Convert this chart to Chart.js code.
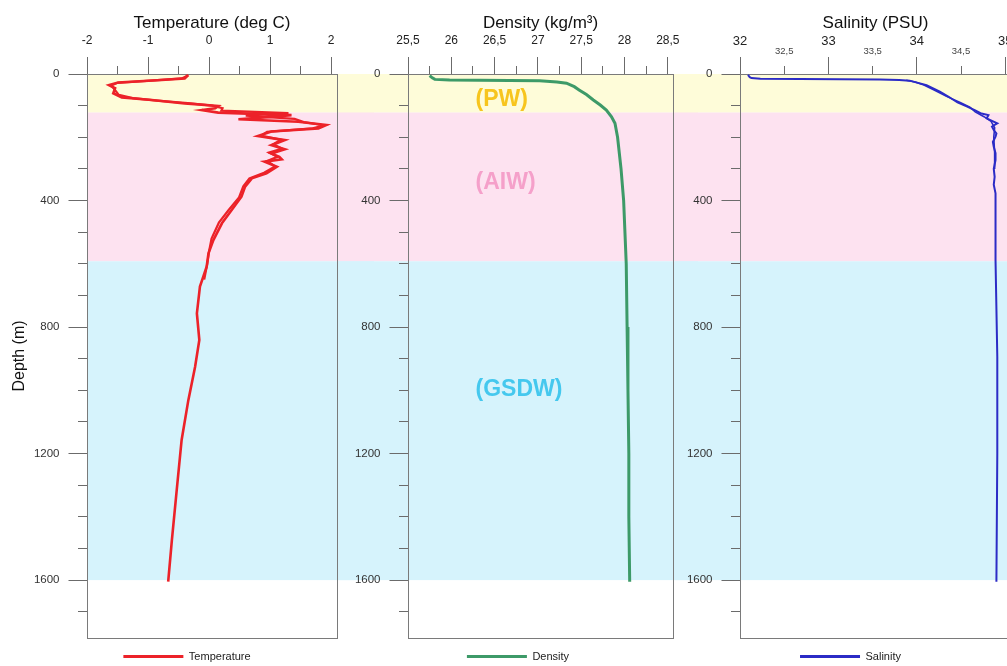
<!DOCTYPE html>
<html><head><meta charset="utf-8">
<script src="https://cdn.jsdelivr.net/npm/chart.js@4"></script>
<style>
html,body{margin:0;padding:0;background:#fff;overflow:hidden;width:1007px;height:666px;position:relative}
canvas{position:absolute;top:0}
</style></head><body>
<canvas id="cT" width="374" height="672" style="left:0px"></canvas>
<canvas id="cD" width="360" height="672" style="left:338px"></canvas>
<canvas id="cS" width="351" height="672" style="left:675px"></canvas>
<script>
// ---------- data ----------
const depthMax = 1783;
const bandNames = ['(PW)', '(AIW)', '(GSDW)'];
const bandTop = [0, 122, 592];
const bandBottom = [122, 592, 1600];
const bandColors = ['#fefcd9', '#fde2f0', '#d6f3fc'];
const labelColors = ['#f7c51e', '#f5a0ca', '#45c8ee'];
const labelDensity = [26.28, 26.28, 26.28];
const labelDepth = [82, 345, 999];

const tempDepth = [3, 14, 19, 27, 35, 45, 61, 74, 82, 93, 101, 108, 114, 122, 130, 137, 143, 151, 161, 172, 182, 196, 209, 225, 238, 251, 262, 270, 277, 293, 314, 330, 356, 388, 430, 472, 525, 567, 609, 672, 757, 841, 926, 1031, 1157, 1315, 1474, 1605];
const tempValue = [-0.34, -0.40, -0.78, -1.49, -1.64, -1.54, -1.57, -1.43, -0.94, -0.40, 0.15, 0.10, -0.12, 0.15, 1.35, 0.90, 0.48, 1.46, 1.92, 1.79, 1.02, 0.80, 1.24, 1.02, 1.24, 1.02, 1.15, 1.19, 0.91, 1.11, 0.94, 0.70, 0.59, 0.53, 0.37, 0.21, 0.07, -0.01, -0.04, -0.15, -0.20, -0.16, -0.23, -0.34, -0.45, -0.53, -0.61, -0.67];
const tempUpDepth = [650, 600, 560, 520, 470, 430, 390, 355, 330, 312, 292, 275, 262, 248, 236, 222, 208, 195, 183, 172, 162, 152, 142, 132, 124, 116, 108, 100, 92, 84, 76, 66, 56, 46, 36, 28, 20, 14, 8, 4];
const tempUpValue = [-0.08, -0.03, 0.00, 0.04, 0.16, 0.32, 0.49, 0.56, 0.66, 0.90, 1.08, 0.95, 1.12, 0.98, 1.20, 1.05, 1.18, 0.85, 0.95, 1.70, 1.88, 1.55, 1.40, 0.60, 1.30, 0.20, 0.22, 0.05, -0.35, -0.85, -1.25, -1.48, -1.52, -1.56, -1.60, -1.50, -0.90, -0.45, -0.38, -0.36];

const densDepth = [5, 12, 17, 19, 21, 25, 29, 40, 51, 65, 82, 98, 114, 135, 156, 200, 300, 400, 600, 800, 1000, 1200, 1400, 1605];
const densValue = [25.75, 25.78, 25.81, 25.98, 27.02, 27.22, 27.33, 27.42, 27.48, 27.56, 27.64, 27.72, 27.79, 27.85, 27.89, 27.92, 27.96, 27.99, 28.02, 28.03, 28.04, 28.05, 28.05, 28.06];

const salDepth = [3, 10, 13, 15, 17, 19, 21, 24, 35, 56, 72, 90, 103, 115, 124, 130, 140, 148, 156, 166, 177, 188, 198, 215, 230, 250, 272, 300, 325, 350, 377, 450, 588, 894, 1200, 1605];
const salValue = [32.09, 32.11, 32.13, 32.23, 33.58, 33.80, 33.92, 33.96, 34.11, 34.26, 34.36, 34.46, 34.57, 34.66, 34.72, 34.81, 34.79, 34.85, 34.91, 34.85, 34.87, 34.90, 34.89, 34.86, 34.87, 34.89, 34.89, 34.87, 34.88, 34.87, 34.89, 34.89, 34.89, 34.91, 34.91, 34.90];
const salUpDepth = [300, 250, 200, 170, 150, 135, 120, 105, 90, 70, 50, 35, 25, 20];
const salUpValue = [34.88, 34.88, 34.87, 34.88, 34.84, 34.76, 34.66, 34.60, 34.49, 34.33, 34.19, 34.08, 33.98, 33.88];

const tempRange = {min: -2, max: 2.095, step: 1, minorStep: 0.5};
const densRange = {min: 25.5, max: 28.56, step: 0.5, minorStep: 0.25};
const salRange = {min: 32, max: 35.065, step: 0.5, minorStep: 0.5};

// ---------- styling ----------
const FONT = '"Liberation Sans", Arial, sans-serif';
const TICK = '#6b6b6b';

const toXY = (xs, ys) => xs.map((v, i) => ({x: v, y: ys[i]}));
const fmtComma = v => Number.isInteger(v) ? String(v) : String(+v.toFixed(2)).replace('.', ',');
const isHalf = c => c && c.tick && !Number.isInteger(+c.tick.value.toFixed(6));

const bandPlugin = {
  id: 'bands',
  beforeDraw(chart, args, opts) {
    const {ctx, chartArea} = chart;
    const y = chart.scales.y;
    const x0 = opts.fromCanvasLeft ? 0 : chartArea.left;
    const x1 = chart.width;
    ctx.save();
    for (let i = 0; i < bandTop.length; i++) {
      const yt = y.getPixelForValue(bandTop[i]);
      const yb = y.getPixelForValue(bandBottom[i]);
      ctx.fillStyle = bandColors[i];
      ctx.fillRect(x0, yt, x1 - x0, yb - yt);
    }
    ctx.restore();
  }
};
const framePlugin = {
  id: 'frame',
  beforeDatasetsDraw(chart) {
    const {ctx, chartArea: a} = chart;
    ctx.save();
    ctx.strokeStyle = '#7a7a7a';
    ctx.lineWidth = 1;
    ctx.strokeRect(Math.round(a.left) + 0.5, Math.round(a.top) + 0.5,
      Math.round(a.right) - Math.round(a.left), Math.round(a.bottom) - Math.round(a.top));
    ctx.restore();
  }
};
const regionPlugin = {
  id: 'regions',
  beforeDatasetsDraw(chart, args, opts) {
    if (!opts.show) return;
    const {ctx} = chart;
    const x = chart.scales.x, y = chart.scales.y;
    ctx.save();
    ctx.font = 'bold 23px ' + FONT;
    ctx.textAlign = 'left';
    ctx.textBaseline = 'middle';
    for (let i = 0; i < bandNames.length; i++) {
      ctx.fillStyle = labelColors[i];
      ctx.fillText(bandNames[i], x.getPixelForValue(labelDensity[i]), y.getPixelForValue(labelDepth[i]));
    }
    ctx.restore();
  }
};

function xMajor(r, title, fontSize, pad, fmt) {
  return {
    type: 'linear', position: 'top', min: r.min, max: r.max, weight: 1,
    afterFit: s => { s.height = 74; },
    border: {display: false},
    grid: {drawOnChartArea: false, drawTicks: true, tickLength: 17, tickColor: TICK, tickWidth: 1},
    ticks: {stepSize: r.step, includeBounds: false, autoSkip: false, maxRotation: 0, minRotation: 0,
      padding: pad, color: '#222', font: {family: FONT, size: fontSize}, callback: v => fmt(v)},
    title: {display: true, text: title, color: '#111', font: {family: FONT, size: 17}, padding: {top: 13, bottom: 0}}
  };
}
// salinity: one axis with big integer labels and small half labels sitting lower
function xSalinity(r, title) {
  const ax = xMajor(r, title, 13, 0.3, v => v);
  ax.grid.tickColor = c => isHalf(c) ? 'rgba(0,0,0,0)' : TICK;
  ax.ticks.font = c => isHalf(c) ? {family: FONT, size: 9.5} : {family: FONT, size: 13, lineHeight: 0.8077};
  ax.ticks.color = c => isHalf(c) ? '#444' : '#222';
  ax.ticks.callback = v => Number.isInteger(+v.toFixed(6)) ? [String(Math.round(v)), ''] : fmtComma(v);
  return ax;
}
function xMinor(r) {
  return {
    type: 'linear', position: 'top', min: r.min, max: r.max, weight: 0,
    afterFit: s => { s.height = 0; },
    border: {display: false},
    grid: {drawOnChartArea: false, drawTicks: true, tickLength: 8, tickColor: TICK, tickWidth: 1},
    ticks: {stepSize: r.minorStep, includeBounds: false, autoSkip: false, maxRotation: 0, minRotation: 0,
      padding: 0, callback: () => ''}
  };
}
function yMajor(width, title) {
  return {
    type: 'linear', position: 'left', min: 0, max: depthMax, reverse: true, weight: 1,
    afterFit: s => { s.width = width; },
    border: {display: false},
    grid: {drawOnChartArea: false, drawTicks: true, tickLength: 18.5, tickColor: TICK, tickWidth: 1},
    ticks: {stepSize: 400, includeBounds: false, autoSkip: false, padding: 9, color: '#333',
      font: {family: FONT, size: 11.5}, callback: v => String(v)},
    title: title ? {display: true, text: title, color: '#111', font: {family: FONT, size: 16}, padding: {top: 10, bottom: 0}} : {display: false}
  };
}
function yMinor() {
  return {
    type: 'linear', position: 'left', min: 0, max: depthMax, reverse: true, weight: 0,
    afterFit: s => { s.width = 0; },
    border: {display: false},
    grid: {drawOnChartArea: false, drawTicks: true, tickLength: 9, tickColor: TICK, tickWidth: 1},
    ticks: {stepSize: 100, includeBounds: false, autoSkip: false, padding: 0, callback: () => ''}
  };
}
function rightGap(width) {
  return {
    type: 'linear', position: 'right', display: true,
    afterFit: s => { s.width = width; },
    border: {display: false}, grid: {display: false}, ticks: {display: false}
  };
}
function line(label, xs, ys, color, width) {
  return {label, data: toXY(xs, ys), xAxisID: 'x', yAxisID: 'y', showLine: true,
    borderColor: color, backgroundColor: color, borderWidth: width, pointRadius: 0,
    pointHoverRadius: 0, tension: 0, fill: false};
}
function legendOpts() {
  return {
    display: true, position: 'bottom', align: 'center',
    labels: {
      boxWidth: 60, boxHeight: 3, padding: 13, color: '#222',
      font: {family: FONT, size: 11},
      filter: item => item.datasetIndex === 0,
      generateLabels: chart => Chart.defaults.plugins.legend.labels.generateLabels(chart)
        .map(it => Object.assign(it, {lineWidth: 0}))
    }
  };
}
function make(id, datasets, scales, bandsFromLeft, regions) {
  return new Chart(document.getElementById(id), {
    type: 'scatter',
    data: {datasets},
    options: {
      responsive: false, animation: false, devicePixelRatio: 1,
      layout: {padding: 0},
      scales,
      plugins: {
        legend: legendOpts(),
        tooltip: {enabled: false},
        bands: {fromCanvasLeft: bandsFromLeft},
        regions: {show: regions}
      },
      events: []
    },
    plugins: [bandPlugin, framePlugin, regionPlugin]
  });
}

const RED = '#ec2229', GREEN = '#3d9a68', BLUE = '#2b2bc6';

make('cT', [
  line('Temperature', tempValue, tempDepth, RED, 2.6),
  line('Temperature up', tempUpValue, tempUpDepth, RED, 2.2)
], {
  x: xMajor(tempRange, 'Temperature (deg C)', 12, 8.8, v => String(v)),
  xm: xMinor(tempRange),
  y: yMajor(87, 'Depth (m)'),
  ym: yMinor(),
  gap: rightGap(37)
}, false, false);

make('cD', [
  line('Density', densValue, densDepth, GREEN, 3)
], {
  x: xMajor(densRange, 'Density (kg/m³)', 12, 8.8, fmtComma),
  xm: xMinor(densRange),
  y: yMajor(70, null),
  ym: yMinor(),
  gap: rightGap(25)
}, true, true);

make('cS', [
  line('Salinity', salValue, salDepth, BLUE, 2),
  line('Salinity up', salUpValue, salUpDepth, BLUE, 1.6)
], {
  x: xSalinity(salRange, 'Salinity (PSU)'),
  xm: xMinor(salRange),
  y: yMajor(65, null),
  ym: yMinor(),
  gap: rightGap(15)
}, true, false);
</script>
</body></html>
